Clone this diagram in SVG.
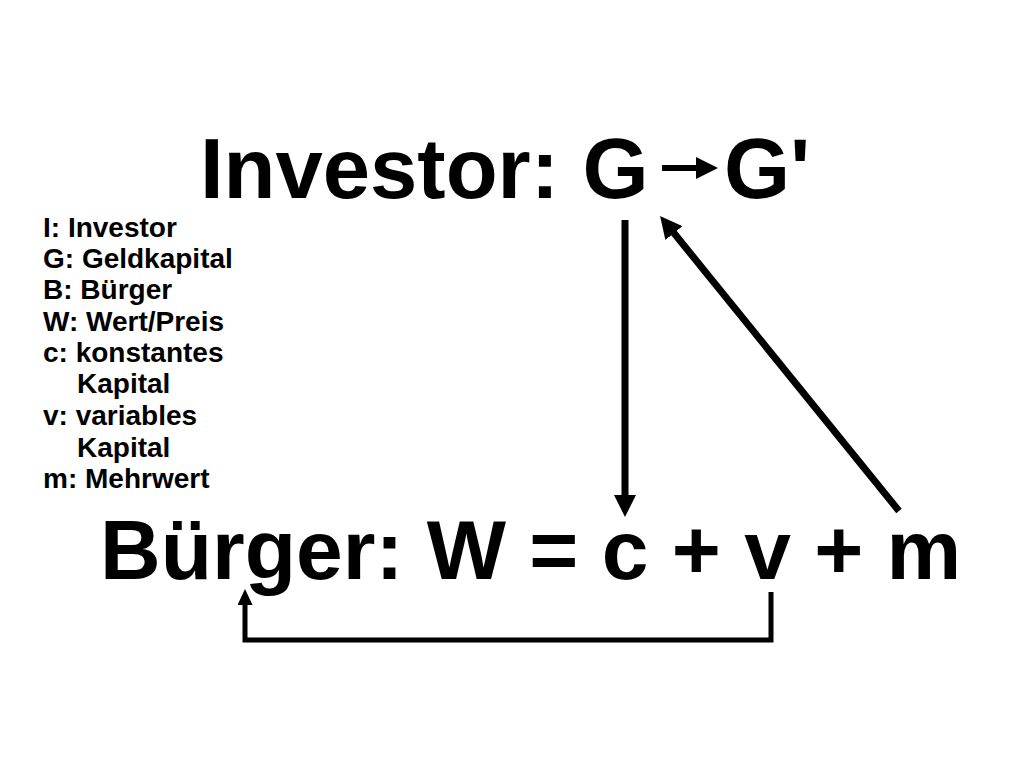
<svg xmlns="http://www.w3.org/2000/svg" width="1024" height="768" viewBox="0 0 1024 768">
<defs>
<style>
.big{font-family:"Liberation Sans",Arial,Helvetica,sans-serif;font-weight:bold;font-size:84px;fill:#000}
.top{font-size:85px}
.leg{font-family:"Liberation Sans",Arial,Helvetica,sans-serif;font-weight:bold;font-size:28px;fill:#000}
.c{stroke:#000;fill:none;stroke-linecap:butt;stroke-linejoin:miter}
</style>
<marker id="ah" markerUnits="userSpaceOnUse" markerWidth="22" markerHeight="22" viewBox="0 0 22 22" refX="1" refY="11" orient="auto">
<path d="M0,0 L22,11 L0,22 z" fill="#000"/>
</marker>
<marker id="ahs" markerUnits="userSpaceOnUse" markerWidth="16" markerHeight="16" viewBox="0 0 16 16" refX="1" refY="7.5" orient="auto">
<path d="M0,0 L16,7.5 L0,15 z" fill="#000"/>
</marker>
</defs>
<rect width="1024" height="768" fill="#fff"/>
<g id="investor">
<text class="big top" x="200" y="198">Investor: G</text>
</g>
<g id="gstrich">
<text class="big top" x="724" y="198">G'</text>
</g>
<g id="buerger">
<text class="big" x="100" y="579">Bürger: W = c + v + m</text>
</g>
<g id="legende">
<text class="leg" x="43" y="237">I: Investor</text>
<text class="leg" x="43" y="268">G: Geldkapital</text>
<text class="leg" x="43" y="299">B: Bürger</text>
<text class="leg" x="43" y="331">W: Wert/Preis</text>
<text class="leg" x="43" y="362">c: konstantes</text>
<text class="leg" x="77" y="393">Kapital</text>
<text class="leg" x="43" y="425">v: variables</text>
<text class="leg" x="77" y="457">Kapital</text>
<text class="leg" x="43" y="488">m: Mehrwert</text>
</g>
<g id="connectors">
<line class="c" x1="662" y1="168" x2="697" y2="168" stroke-width="6" marker-end="url(#ah)"/>
<line class="c" x1="625" y1="220" x2="625" y2="496" stroke-width="7" marker-end="url(#ah)"/>
<line class="c" x1="899" y1="511" x2="673.3" y2="232.3" stroke-width="7" marker-end="url(#ah)"/>
<polyline class="c" points="771,592 771,640 245,640 245,604" stroke-width="5" marker-end="url(#ahs)"/>
</g>
</svg>
